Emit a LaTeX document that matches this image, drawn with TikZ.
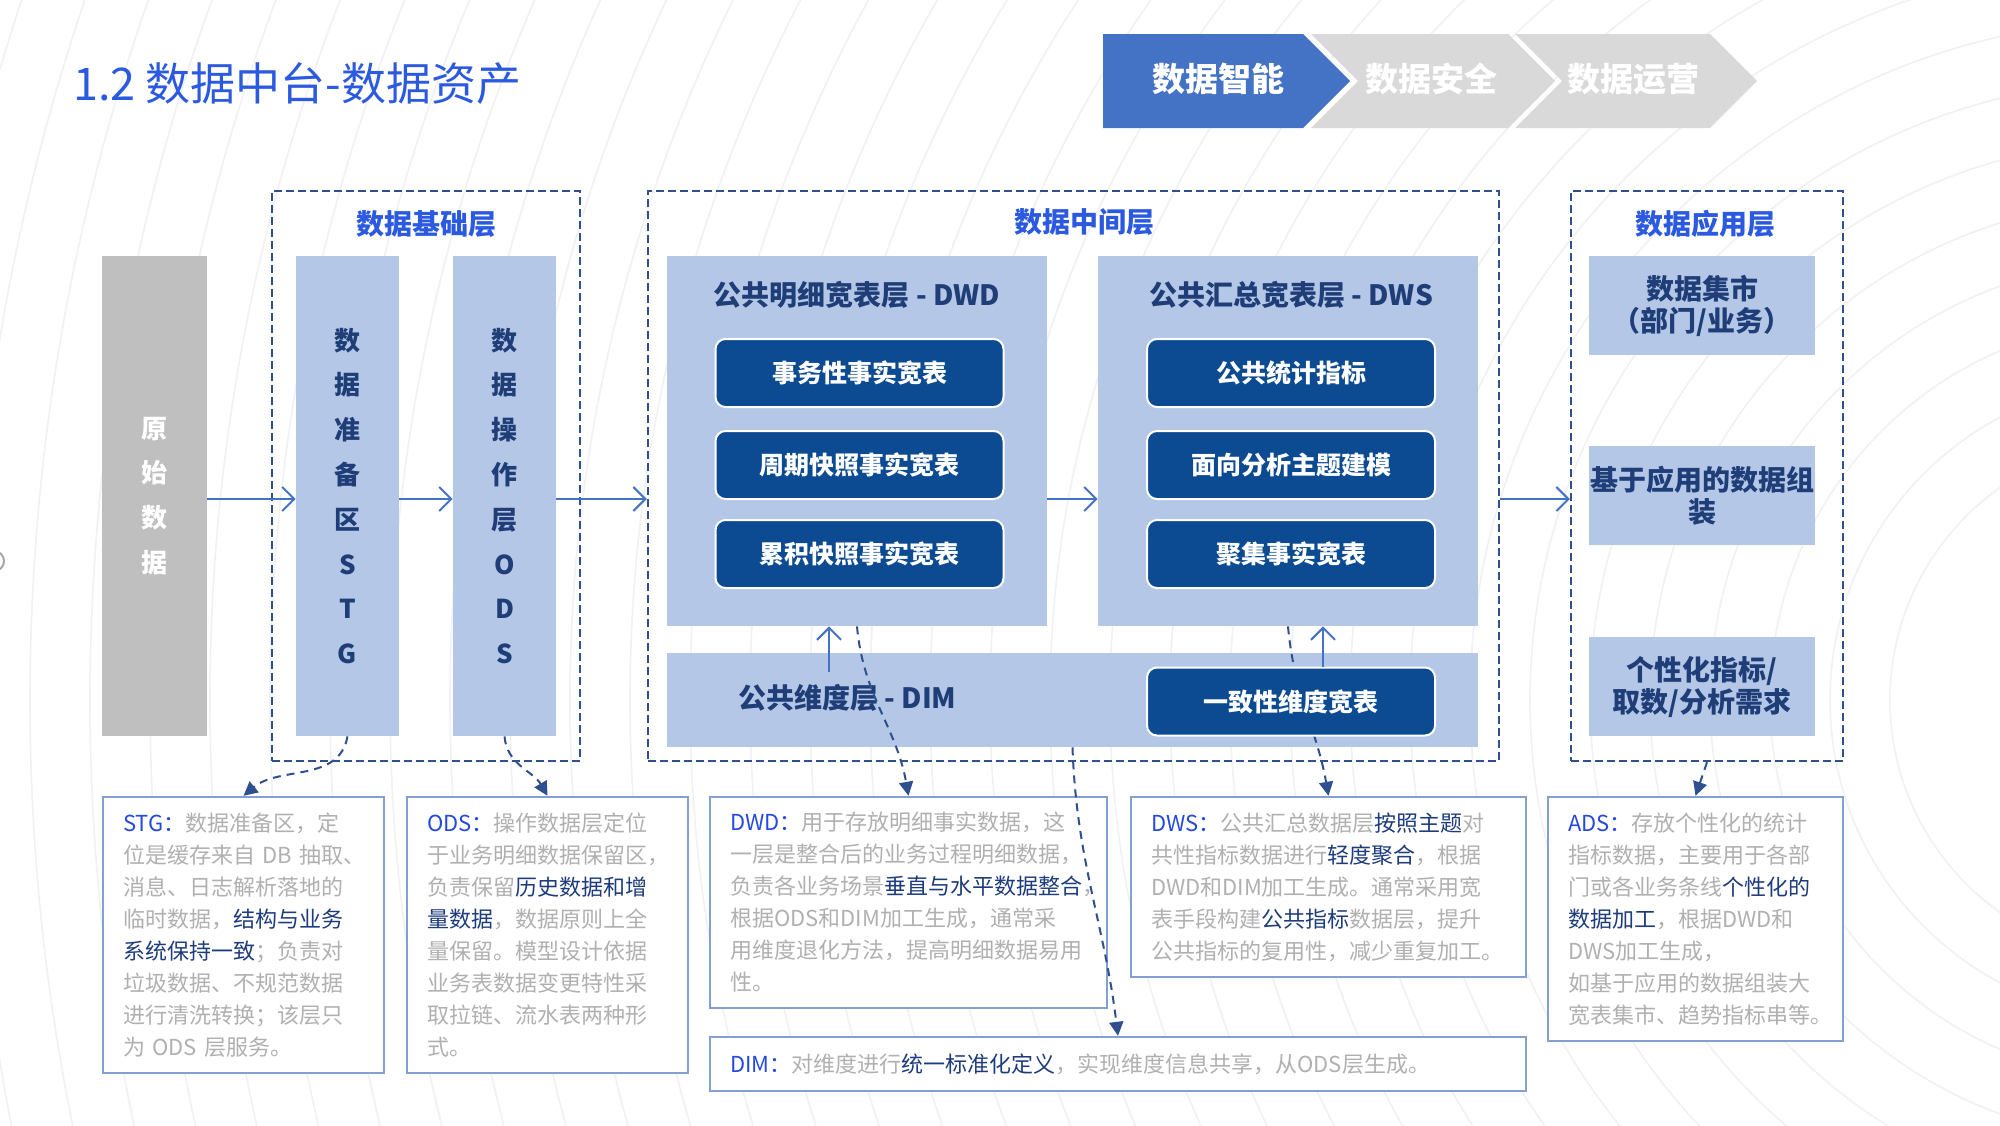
\documentclass[tikz,border=0pt]{standalone}
\usepackage{fontspec}
\setmainfont{Noto Sans CJK SC}
\usepackage{tikz}
\usetikzlibrary{arrows.meta,positioning,calc}
\definecolor{titleblue}{RGB}{43,90,224}
\definecolor{chevblue}{RGB}{68,114,196}
\definecolor{chevgray}{RGB}{217,217,217}
\definecolor{framenavy}{RGB}{47,79,143}
\definecolor{layerfill}{RGB}{180,199,231}
\definecolor{rawgray}{RGB}{191,191,191}
\definecolor{boxnavy}{RGB}{12,74,145}
\definecolor{textnavy}{RGB}{31,62,120}
\definecolor{arrowblue}{RGB}{68,114,196}
\definecolor{noteline}{RGB}{132,160,210}
\definecolor{notegray}{RGB}{176,176,176}
\definecolor{labelblue}{RGB}{36,72,224}
\definecolor{marknavy}{RGB}{30,60,125}
\definecolor{wave}{RGB}{240,241,244}
\newcommand{\lbl}[1]{\textcolor{labelblue}{#1}}
\newcommand{\hilite}[1]{\textcolor{marknavy}{#1}}

\begin{document}
\begin{tikzpicture}[x=0.5pt, y=-0.5pt,
    layer/.style={draw=framenavy, line width=1.2pt, dash pattern=on 4pt off 2pt, minimum height=285pt},
    head/.style={text=titleblue, font=\bfseries\fontsize{14}{16}\selectfont},
    column/.style={fill=layerfill, minimum width=51.5pt, minimum height=240pt, text=textnavy, align=center, font=\bfseries\fontsize{13}{22.4}\selectfont},
    group/.style={fill=layerfill, minimum width=190pt, minimum height=185pt},
    grouphead/.style={text=textnavy, font=\bfseries\fontsize{14}{16}\selectfont},
    factbox/.style={fill=boxnavy, draw=white, line width=1pt, rounded corners=5pt, minimum width=144pt, minimum height=34pt, text=white, font=\bfseries\fontsize{12.5}{14}\selectfont},
    appbox/.style={fill=layerfill, inner xsep=0pt, minimum width=113pt, minimum height=49.5pt, text=textnavy, align=center, font=\bfseries\fontsize{14}{16}\selectfont},
    note/.style={draw=noteline, line width=1.2pt, fill=white, align=left, inner xsep=10pt, inner ysep=0pt, text=notegray, font=\fontsize{11}{16}\selectfont},
    flow/.style={draw=arrowblue, line width=1pt, -{Straight Barb[length=6pt,width=12pt]}},
    link/.style={draw=framenavy, line width=1pt, dash pattern=on 4pt off 3pt, -{Triangle[length=7pt,width=7pt]}},
    chevtext/.style={text=white, font=\bfseries\fontsize{16.5}{18}\selectfont}
]
    \useasboundingbox (0,0) rectangle (2000,1125);
    \fill[white] (0,0) rectangle (2000,1125);
    \begin{scope}
        \clip (0,0) rectangle (2000,1125);
        \foreach \r in {260,320,...,2400}
            \draw[wave, line width=0.8pt] (2150,700) circle (\r);
    \end{scope}
    \draw[gray!70, line width=1pt] (-6,561) circle (10);

    \node[anchor=west, text=titleblue, font=\fontsize{22.5}{26}\selectfont] (title) at (66,83) {1.2 数据中台-数据资产};

    \fill[chevblue] (1103,34) -- (1303,34) -- (1350,81) -- (1303,128) -- (1103,128) -- cycle;
    \fill[chevgray] (1311,34) -- (1508,34) -- (1555,81) -- (1508,128) -- (1311,128) -- (1358,81) -- cycle;
    \fill[chevgray] (1515,34) -- (1710,34) -- (1757,81) -- (1710,128) -- (1515,128) -- (1562,81) -- cycle;
    \node[chevtext] (smart) at (1218,79) {数据智能};
    \node[chevtext] (safe) at (1431,79) {数据安全};
    \node[chevtext] (ops) at (1633,79) {数据运营};

    \node[column, fill=rawgray, text=white, minimum width=52.5pt] (raw) at (154.5,496) {原\\始\\数\\据};

    \node[layer, minimum width=154pt] (base) at (426,476) {};
    \node[head] (basehead) at (426,224) {数据基础层};
    \node[column] (stg) at (347.5,496) {数\\据\\准\\备\\区\\S\\T\\G};
    \node[column] (ods) at (504.5,496) {数\\据\\操\\作\\层\\O\\D\\S};

    \node[layer, minimum width=425.5pt] (mid) at (1073.5,476) {};
    \node[head] (midhead) at (1084,222) {数据中间层};
    \node[group] (dwd) at (857,441) {};
    \node[grouphead] (dwdhead) at (857,295) {公共明细宽表层 - DWD};
    \node[factbox] (dwd1) at (859.5,373) {事务性事实宽表};
    \node[factbox] (dwd2) at (859.5,465) {周期快照事实宽表};
    \node[factbox] (dwd3) at (859.5,554) {累积快照事实宽表};
    \node[group] (dws) at (1288,441) {};
    \node[grouphead] (dwshead) at (1291,295) {公共汇总宽表层 - DWS};
    \node[factbox] (dws1) at (1291,373) {公共统计指标};
    \node[factbox] (dws2) at (1291,465) {面向分析主题建模};
    \node[factbox] (dws3) at (1291,554) {聚集事实宽表};
    \node[fill=layerfill, minimum width=405.5pt, minimum height=47pt] (dim) at (1072.5,700) {};
    \node[grouphead, anchor=west] (dimhead) at (731,698) {公共维度层 - DIM};

    \node[layer, minimum width=136pt] (app) at (1707,476) {};
    \node[head] (apphead) at (1705,224) {数据应用层};
    \node[appbox] (mart) at (1702,305.5) {数据集市\\（部门/业务）};
    \node[appbox] (assemble) at (1702,495.5) {基于应用的数据组\\装};
    \node[appbox] (demand) at (1702,686.5) {个性化指标/\\取数/分析需求};

    \node[note, text width=120.5pt, minimum height=138pt] (stgnote) at (243.5,935) {\lbl{STG：}数据准备区，定\\位是缓存来自~DB~抽取、\\消息、日志解析落地的\\临时数据，\hilite{结构与业务}\\\hilite{系统保持一致}；负责对\\垃圾数据、不规范数据\\进行清洗转换；该层只\\为~ODS~层服务。};
    \node[note, text width=120.5pt, minimum height=138pt] (odsnote) at (547.5,935) {\lbl{ODS：}操作数据层定位\\于业务明细数据保留区，\\负责保留\hilite{历史数据和增}\\\hilite{量数据}，数据原则上全\\量保留。模型设计依据\\业务表数据变更特性采\\取拉链、流水表两种形\\式。};
    \node[note, text width=178.5pt, minimum height=105.5pt] (dwdnote) at (908.5,902.5) {\lbl{DWD：}用于存放明细事实数据，这\\一层是整合后的业务过程明细数据，\\负责各业务场景\hilite{垂直与水平数据整合}，\\根据ODS和DIM加工生成，通常采\\用维度退化方法，提高明细数据易用\\性。};
    \node[note, text width=177.5pt, minimum height=90pt] (dwsnote) at (1328.5,887) {\lbl{DWS：}公共汇总数据层\hilite{按照主题}对\\共性指标数据进行\hilite{轻度聚合}，根据\\DWD和DIM加工生成。通常采用宽\\表手段构建\hilite{公共指标}数据层，提升\\公共指标的复用性，减少重复加工。};
    \node[note, text width=127.5pt, minimum height=122pt] (adsnote) at (1695.5,919) {\lbl{ADS：}存放个性化的统计\\指标数据，主要用于各部\\门或各业务条线\hilite{个性化的}\\\hilite{数据加工}，根据DWD和\\DWS加工生成，\\如基于应用的数据组装大\\宽表集市、趋势指标串等。};
    \node[note, text width=388pt, minimum height=27pt] (dimnote) at (1118,1064) {\lbl{DIM：}对维度进行\hilite{统一标准化定义}，实现维度信息共享，从ODS层生成。};

    \draw[link] (stg.south) to[out=-100, in=40] (stgnote.north);
    \draw[link] (ods.south) to[out=-85, in=120] (odsnote.north);
    \draw[link] (dwd.south) to[out=-85, in=100] (dwdnote.north);
    \draw[link] (dim.south) to[out=-88, in=97] (dimnote.north);
    \draw[link] (dws.south) to[out=-85, in=100] (dwsnote.north);
    \draw[link] (app.south) -- (adsnote.north);

    \node[factbox] (cdim) at (1291,701.5) {一致性维度宽表};

    \coordinate (axis) at (0,499);
    \coordinate (dimup) at (829,672);
    \coordinate (dwsup) at (1323,667);
    \draw[flow] (raw.east |- axis) -- (stg.west |- axis);
    \draw[flow] (stg.east |- axis) -- (ods.west |- axis);
    \draw[flow] (ods.east |- axis) -- (mid.west |- axis);
    \draw[flow] (dwd.east |- axis) -- (dws.west |- axis);
    \draw[flow] (mid.east |- axis) -- (app.west |- axis);
    \draw[flow] (dimup) -- (dimup |- dwd.south);
    \draw[flow] (dwsup) -- (dwsup |- dws.south);
\end{tikzpicture}
\end{document}
